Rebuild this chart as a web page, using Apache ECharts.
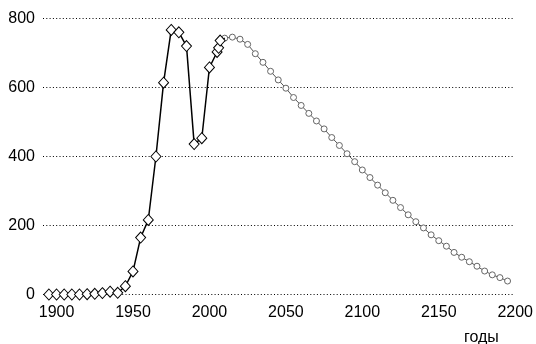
<!DOCTYPE html>
<html>
<head>
<meta charset="utf-8">
<script src="https://cdn.jsdelivr.net/npm/echarts@6/dist/echarts.min.js"></script>
<style>
html,body{margin:0;padding:0;background:#fff;}
#c{width:536px;height:344px;}
</style>
</head>
<body>
<div id="c"></div>
<script>
// Observed values (diamonds)
var obsYears = [1895,1900,1905,1910,1915,1920,1925,1930,1935,1940,1945,1950,1955,1960,1965,1970,1975,1980,1985,1990,1995,2000,2005,2006,2007];
var obsValues = [0,0,0,0,0,1,2,4,8,5,24,67,165,216,400,614,767,760,720,436,453,658,703,715,736];
// Projection values (circles)
var projYears = [2010,2015,2020,2025,2030,2035,2040,2045,2050,2055,2060,2065,2070,2075,2080,2085,2090,2095,2100,2105,2110,2115,2120,2125,2130,2135,2140,2145,2150,2155,2160,2165,2170,2175,2180,2185,2190,2195];
var projValues = [743,746,740,725,698,673,647,622,598,571,548,525,503,480,455,432,408,385,361,339,317,295,273,252,231,211,193,173,156,140,122,108,95,82,68,57,49,39];
var yTicks = [0,200,400,600,800];
var xLabelYears = [1900,1950,2000,2050,2100,2150,2200];
var xName = 'годы';

var FONT = 'Liberation Sans, Arial, Helvetica, sans-serif';

var obsData = obsYears.map(function(y,i){ return [y, obsValues[i]]; });
// connector from last observed point to first projected point (no marker)
obsData.push({value:[projYears[0], projValues[0]], symbol:'none'});
var projData = projYears.map(function(y,i){ return [y, projValues[i]]; });

var chart = echarts.init(document.getElementById('c'), null, {renderer:'canvas'});
chart.setOption({
  backgroundColor:'#fff',
  animation:false,
  grid:[
    {left:43, right:23, top:18.5, bottom:49.5},
    {left:42.8, right:17.3, top:18.5, bottom:49.5}
  ],
  xAxis:[
    {gridIndex:0, type:'value', min:1891, max:2196, show:false},
    {gridIndex:1, type:'value', min:1891, max:2200,
     axisLine:{show:false}, axisTick:{show:false}, splitLine:{show:false},
     axisLabel:{show:true, color:'#000', fontSize:16, fontFamily:FONT, margin:10,
       showMinLabel:true, showMaxLabel:true,
       formatter:function(v){ return xLabelYears.indexOf(Math.round(v))>=0 && Math.abs(v-Math.round(v))<1e-6 ? String(Math.round(v)) : ''; }
     }
    }
  ],
  yAxis:[
    {gridIndex:0, type:'value', min:0, max:800, interval:200,
     axisLine:{show:false}, axisTick:{show:false},
     splitLine:{show:true, lineStyle:{color:'#000', type:[1,2.3], width:1}},
     axisLabel:{color:'#000', fontSize:16, fontFamily:FONT, margin:8, padding:[0,0,7,0],
       formatter:function(v){ return yTicks.indexOf(v)>=0 ? String(v) : ''; }}
    },
    {gridIndex:1, type:'value', min:0, max:800, show:false}
  ],
  series:[
    {
      type:'line', xAxisIndex:1, yAxisIndex:1, data:projData,
      symbol:'circle', symbolSize:6, showAllSymbol:true,
      lineStyle:{color:'#555', width:1},
      itemStyle:{color:'#fff', borderColor:'#666', borderWidth:1},
      z:2
    },
    {
      type:'line', xAxisIndex:1, yAxisIndex:1, data:obsData,
      symbol:'diamond', symbolSize:[10,11], showAllSymbol:true,
      lineStyle:{color:'#000', width:1.5},
      itemStyle:{color:'#fff', borderColor:'#000', borderWidth:1},
      z:3
    }
  ],
  graphic:[
    {type:'text', left:464, top:330,
     style:{text:xName, fill:'#000', font:'16px ' + FONT}}
  ]
});
</script>
</body>
</html>
